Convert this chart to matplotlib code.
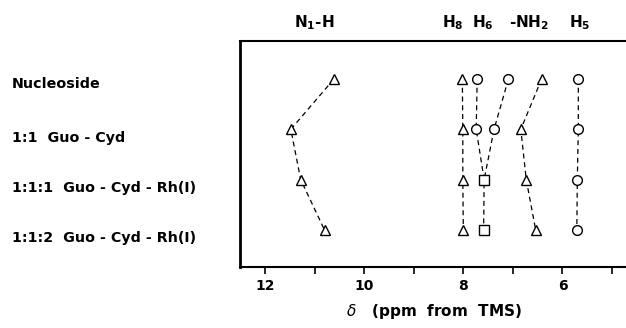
import matplotlib
matplotlib.use("Agg")
import matplotlib.pyplot as plt
import matplotlib.transforms as mtransforms

plt.rcParams['font.family'] = ['DejaVu Sans']

rows = ["Nucleoside", "1:1  Guo - Cyd", "1:1:1  Guo - Cyd - Rh(I)", "1:1:2  Guo - Cyd - Rh(I)"]
row_pos = [1, 2, 3, 4]
row_label_offset = [0.09, 0.18, 0.16, 0.16]

n1h = [10.61, 11.48, 11.28, 10.80]
h8 = [8.02, 8.01, 8.01, 8.00]
h6 = [7.72, 7.74, 7.58, 7.59]
h6_markers = ["o", "o", "s", "s"]
nh2_cyd = [7.09, 7.38, 7.58]
nh2_guo = [6.42, 6.84, 6.73, 6.54]
h5 = [5.68, 5.68, 5.70, 5.71]

col_labels = ["N$_\\mathbf{1}$-H", "H$_\\mathbf{8}$", "H$_\\mathbf{6}$", "-NH$_\\mathbf{2}$", "H$_\\mathbf{5}$"]
col_label_pos = [11.0, 8.21, 7.6, 6.67, 5.65]

major_ticks = [12, 10, 8, 6]
minor_ticks = [11, 9, 7, 5]

fig = plt.figure(figsize=(6.26, 3.28), dpi=100)
ax = fig.add_axes([0.383, 0.186, 0.62, 0.689])

ls = dict(color="black", linestyle=(0, (4, 3)), linewidth=0.9)
mk = dict(markerfacecolor="white", markeredgecolor="black", markeredgewidth=1.0, markersize=7, linestyle="none")

def series(xs, marker):
    ax.plot(xs, row_pos[:len(xs)], **ls, zorder=1)
    ax.plot(xs, row_pos[:len(xs)], marker=marker, **mk, zorder=2)

series(n1h, "^")
series(h8, "^")
ax.plot(h6, row_pos, **ls, zorder=1)
for x, y, m in zip(h6, row_pos, h6_markers):
    ax.plot([x], [y], marker=m, **mk, zorder=2)
ax.plot(nh2_cyd, row_pos[:3], **ls, zorder=1)
ax.plot(nh2_cyd[:2], row_pos[:2], marker="o", **mk, zorder=2)
series(nh2_guo, "^")
series(h5, "o")

ax.set_xlim(12.51, 4.68)
ax.set_ylim(4.735, 0.245)
ax.set_yticks([])
ax.set_xticks(major_ticks)
ax.set_xticks(minor_ticks, minor=True)
ax.set_xticklabels([str(t) for t in major_ticks], fontsize=10, fontweight="bold")
ax.tick_params(axis="x", which="both", length=5, width=1.2, direction="out", pad=4)
ax.spines["right"].set_visible(False)
ax.spines["left"].set_linewidth(2.0)
ax.spines["top"].set_linewidth(1.5)
ax.spines["bottom"].set_linewidth(1.5)

ax.set_xlabel("$\\delta$   (ppm  from  TMS)", fontsize=11, fontweight="bold", labelpad=6)

trans_top = mtransforms.blended_transform_factory(ax.transData, fig.transFigure)
for lab, x in zip(col_labels, col_label_pos):
    ax.text(x, 0.932, lab, transform=trans_top, ha="center", va="center",
            fontsize=11, fontweight="bold")

trans_left = mtransforms.blended_transform_factory(fig.transFigure, ax.transData)
for lab, y, off in zip(rows, row_pos, row_label_offset):
    ax.text(0.019, y + off, lab, transform=trans_left, ha="left", va="center",
            fontsize=10.3, fontweight="bold")

fig.savefig("out.png", dpi=100)
